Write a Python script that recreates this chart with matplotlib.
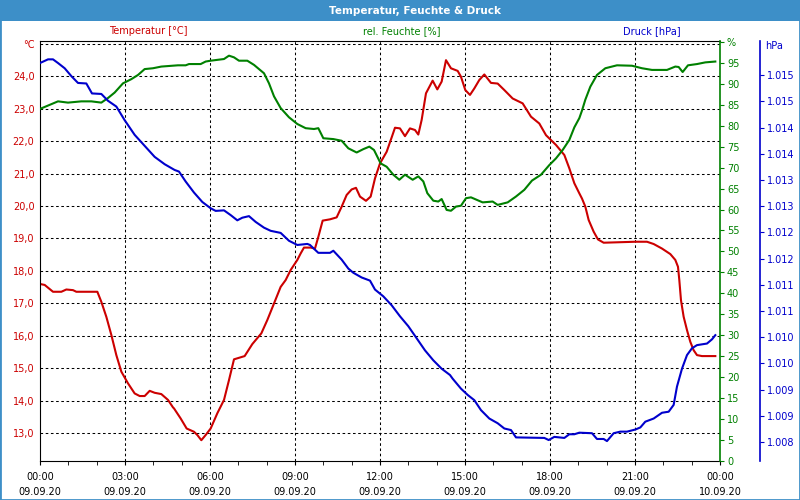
import math
import matplotlib
matplotlib.use("Agg")
import matplotlib.pyplot as plt
from matplotlib.patches import Rectangle

# hours since 09.09.20 00:00
temp_h = [0.0, 0.165, 0.459, 0.753, 0.93, 1.165, 1.282, 2.024, 2.165, 2.341, 2.518, 2.694, 2.871,
          3.106, 3.341, 3.518, 3.694, 3.871, 4.047, 4.282, 4.518, 4.694, 4.729, 4.964, 5.176, 5.435,
          5.553, 5.694, 5.847, 6.023, 6.259, 6.494, 6.670, 6.847, 7.223, 7.494, 7.812, 8.023, 8.259,
          8.494, 8.670, 8.847, 9.082, 9.2, 9.317, 9.553, 9.705, 9.823, 9.976, 10.235, 10.47, 10.647,
          10.823, 10.999, 11.152, 11.294, 11.505, 11.67, 11.823, 11.999, 12.235, 12.411, 12.529,
          12.705, 12.882, 13.058, 13.235, 13.352, 13.47, 13.623, 13.858, 14.023, 14.176, 14.329,
          14.505, 14.741, 14.858, 15.011, 15.176, 15.329, 15.505, 15.682, 15.917, 16.153, 16.388,
          16.682, 17.035, 17.329, 17.623, 17.859, 18.211, 18.506, 18.682, 18.859, 19.035, 19.129,
          19.247, 19.364, 19.541, 19.694, 19.894, 21.011, 21.423, 21.659, 21.953, 22.247, 22.423,
          22.517, 22.564, 22.623, 22.717, 22.835, 22.952, 23.07, 23.188, 23.364, 23.835]
temp = [17.60, 17.57, 17.36, 17.36, 17.43, 17.41, 17.36, 17.36, 17.05, 16.59, 16.03, 15.41, 14.90,
        14.54, 14.23, 14.15, 14.15, 14.31, 14.25, 14.21, 14.03, 13.80, 13.77, 13.46, 13.15, 13.05,
        12.95, 12.79, 12.95, 13.15, 13.62, 14.03, 14.64, 15.28, 15.38, 15.75, 16.08, 16.49, 17.00,
        17.51, 17.72, 18.03, 18.34, 18.54, 18.72, 18.72, 18.69, 19.05, 19.55, 19.59, 19.65, 19.98,
        20.34, 20.51, 20.56, 20.29, 20.16, 20.29, 20.85, 21.31, 21.67, 22.11, 22.41,
        22.39, 22.15, 22.39, 22.34, 22.20, 22.65, 23.47, 23.86, 23.59, 23.83, 24.49,
        24.24, 24.16, 23.98, 23.57, 23.42, 23.62, 23.88, 24.05, 23.79, 23.77, 23.57,
        23.31, 23.16, 22.75, 22.54, 22.18, 21.88, 21.57, 21.16, 20.70, 20.39, 20.23,
        19.98, 19.57, 19.21, 18.97, 18.87, 18.90, 18.90, 18.83, 18.69, 18.52, 18.34,
        18.13, 17.72, 17.10, 16.59, 16.18, 15.82, 15.56, 15.41, 15.38, 15.38]

hum_h = [0.0, 0.283, 0.635, 0.988, 1.459, 1.812, 2.165, 2.4, 2.635, 2.929, 3.224, 3.459, 3.694,
         3.988, 4.282, 4.867, 5.141, 5.258, 5.67, 5.847, 6.023, 6.494, 6.67, 6.847, 7.023, 7.317,
         7.553, 7.906, 8.082, 8.259, 8.494, 8.788, 9.082, 9.376, 9.67, 9.823, 10.0, 10.353, 10.647,
         10.882, 11.176, 11.411, 11.623, 11.788, 12.023, 12.235, 12.47, 12.682, 12.882, 13.153,
         13.352, 13.529, 13.67, 13.882, 14.058, 14.176, 14.352, 14.505, 14.682, 14.858, 15.035,
         15.211, 15.623, 15.976, 16.153, 16.506, 16.8, 17.094, 17.364, 17.682, 17.976, 18.211,
         18.447, 18.682, 18.859, 19.035, 19.129, 19.247, 19.423, 19.658, 19.953, 20.364, 20.894,
         21.247, 21.6, 22.129, 22.423, 22.541, 22.682, 22.87, 23.188, 23.482, 23.835]
hum = [84.0, 84.8, 85.8, 85.5, 85.8, 85.8, 85.5, 86.6, 87.9, 90.1, 91.1, 92.1, 93.5,
       93.7, 94.1, 94.4, 94.4, 94.7, 94.7, 95.3, 95.5, 95.9, 96.7, 96.3, 95.5, 95.5,
       94.5, 92.5, 90.1, 87.0, 84.2, 82.0, 80.4, 79.4, 79.2, 79.4, 77.0, 76.8, 76.4,
       74.6, 73.6, 74.4, 75.0, 74.2, 71.0, 70.2, 68.3, 67.1, 68.3, 67.1,
       67.9, 66.7, 63.9, 62.1, 61.9, 62.5, 59.9, 59.7, 60.7, 60.9, 62.7,
       62.9, 61.7, 61.9, 61.1, 61.7, 63.1, 64.7, 66.9, 68.3, 70.6, 72.2,
       74.2, 76.6, 79.6, 81.8, 83.6, 86.2, 89.3, 92.1, 93.7, 94.4, 94.3,
       93.7, 93.3, 93.3, 94.1, 94.0, 92.8, 94.4, 94.7, 95.1, 95.3]

press_h = [0.0, 0.283, 0.459, 0.635, 0.871, 1.106, 1.341, 1.635, 1.835, 2.165, 2.4, 2.694, 2.988,
           3.341, 3.694, 4.047, 4.4, 4.753, 4.905, 5.141, 5.435, 5.729, 6.023, 6.2, 6.494, 6.729,
           6.964, 7.141, 7.376, 7.611, 7.906, 8.141, 8.494, 8.788, 9.082, 9.435, 9.529, 9.823,
           10.235, 10.353, 10.647, 10.882, 11.058, 11.352, 11.647, 11.823, 12.117, 12.411, 12.705,
           13.0, 13.294, 13.588, 13.882, 14.176, 14.47, 14.564, 14.858, 15.094, 15.329, 15.564,
           15.858, 16.153, 16.388, 16.623, 16.8, 17.8, 17.953, 18.153, 18.506, 18.682, 18.859,
           19.035, 19.482, 19.658, 19.894, 20.011, 20.247, 20.482, 20.717, 21.011, 21.188, 21.364,
           21.659, 21.953, 22.188, 22.364, 22.482, 22.658, 22.835, 23.011, 23.188, 23.541, 23.717,
           23.835]
press = [1015.23, 1015.30, 1015.30, 1015.23, 1015.13, 1014.98, 1014.85, 1014.84, 1014.65, 1014.64,
         1014.51, 1014.40, 1014.14, 1013.86, 1013.65, 1013.44, 1013.30, 1013.19, 1013.16, 1012.97,
         1012.76, 1012.58, 1012.46, 1012.41, 1012.42, 1012.33, 1012.23, 1012.28, 1012.31, 1012.20,
         1012.09, 1012.03, 1011.99, 1011.84, 1011.76, 1011.78, 1011.76, 1011.61, 1011.61, 1011.65,
         1011.48, 1011.31, 1011.23, 1011.14, 1011.08, 1010.91, 1010.78, 1010.61, 1010.40, 1010.21,
         1009.98, 1009.75, 1009.56, 1009.40, 1009.28, 1009.21, 1009.02, 1008.90, 1008.80, 1008.61,
         1008.45, 1008.36, 1008.26, 1008.23, 1008.09, 1008.08, 1008.04, 1008.10, 1008.08, 1008.15,
         1008.15, 1008.18, 1008.17, 1008.06, 1008.06, 1008.02, 1008.17, 1008.20, 1008.20, 1008.24,
         1008.28, 1008.39, 1008.45, 1008.56, 1008.58, 1008.71, 1009.06, 1009.40, 1009.66, 1009.79,
         1009.85, 1009.88, 1009.96, 1010.04]

x_ticks = [0, 3, 6, 9, 12, 15, 18, 21, 24]
x_labels = ["00:00\n09.09.20", "03:00\n09.09.20", "06:00\n09.09.20", "09:00\n09.09.20",
            "12:00\n09.09.20", "15:00\n09.09.20", "18:00\n09.09.20", "21:00\n09.09.20",
            "00:00\n10.09.20"]
temp_ticks = list(range(13, 26))
hum_ticks = list(range(0, 101, 5))
press_ticks = [1008 + 0.5 * i for i in range(15)]

RED = "#cc0000"
GREEN = "#008000"
BLUE = "#0000cc"
BAR = "#3d8fc8"

plt.rcParams["font.family"] = "DejaVu Sans"
plt.rcParams["font.size"] = 7

fig = plt.figure(figsize=(8, 5), dpi=100)
W, H = 800.0, 500.0

# title bar and frame
fig.patches.append(Rectangle((0, 1 - 21 / H), 1, 21 / H, transform=fig.transFigure,
                             facecolor=BAR, edgecolor="none", zorder=0))
fig.patches.append(Rectangle((0, 0), 1, 1, transform=fig.transFigure, fill=False,
                             edgecolor=BAR, lw=2, zorder=5))
fig.text(415 / W, 1 - 10.5 / H, "Temperatur, Feuchte & Druck", color="white",
         fontsize=7.5, fontweight="bold", ha="center", va="center")

ax = fig.add_axes([40 / W, 1 - 461 / H, 680 / W, 420 / H])
ax_h = ax.twinx()
ax_p = ax.twinx()

# temperature
ax.plot(temp_h, temp, color=RED, lw=1.5)
ax.set_xlim(0, 24)
ax.set_ylim(12.15, 25.08)
ax.set_yticks(temp_ticks)
ax.set_yticklabels([("%d,0" % v) if v < 25 else "°C" for v in temp_ticks])
ax.tick_params(axis="y", length=0, pad=4, colors=RED)
ax.set_xticks(x_ticks)
ax.set_xticklabels(x_labels, linespacing=1.6)
ax.set_xticks(range(25), minor=True)
ax.tick_params(axis="x", which="both", direction="out", length=3, pad=5, color="black")
for v in temp_ticks:
    ax.axhline(v, color="black", lw=0.75, dashes=(2.5, 2.5), zorder=0)
for v in x_ticks[1:-1]:
    ax.axvline(v, color="black", lw=0.75, dashes=(2.5, 2.5), zorder=0)
ax.spines["right"].set_visible(False)

# humidity
ax_h.plot(hum_h, hum, color=GREEN, lw=1.5)
ax_h.set_ylim(0, 100.2)
ax_h.set_yticks(hum_ticks)
ax_h.set_yticklabels([str(v) if v < 100 else "%" for v in hum_ticks])
ax_h.tick_params(axis="y", direction="out", length=3, pad=2, colors=GREEN)
for s in ["left", "top", "bottom"]:
    ax_h.spines[s].set_visible(False)
ax_h.spines["right"].set_color(GREEN)
ax_h.spines["right"].set_linewidth(1.2)

# pressure
ax_p.plot(press_h, press, color=BLUE, lw=1.5)
ax_p.set_ylim(1007.64, 1015.65)
ax_p.spines["right"].set_position(("axes", 720 / 680.0))
ax_p.set_yticks(press_ticks)
ax_p.set_yticklabels(["1.%03d" % (int(math.floor(v + 0.5)) - 1000) for v in press_ticks])
ax_p.tick_params(axis="y", direction="out", length=3, pad=2, colors=BLUE)
for s in ["left", "top", "bottom"]:
    ax_p.spines[s].set_visible(False)
ax_p.spines["right"].set_color(BLUE)
ax_p.spines["right"].set_linewidth(1.2)

# header labels
fig.text(148 / W, 1 - 31 / H, "Temperatur [°C]", color=RED, ha="center", va="center")
fig.text(402 / W, 1 - 31 / H, "rel. Feuchte [%]", color=GREEN, ha="center", va="center")
fig.text(652 / W, 1 - 31 / H, "Druck [hPa]", color=BLUE, ha="center", va="center")
fig.text(765 / W, 1 - 46 / H, "hPa", color=BLUE, ha="left", va="center")

fig.savefig("out.png", dpi=100)
